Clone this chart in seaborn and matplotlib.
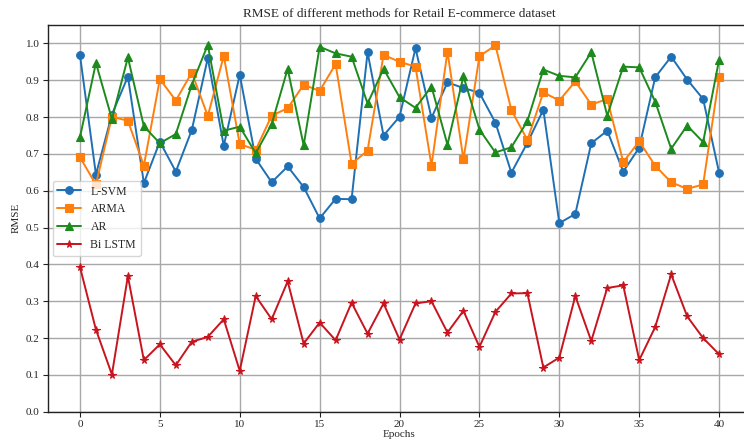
import numpy as np
import pandas as pd
import matplotlib
matplotlib.use("Agg")
import matplotlib.pyplot as plt
import seaborn as sns

epochs = list(range(41))

lsvm = [0.969, 0.644, 0.807, 0.910, 0.621, 0.733, 0.652, 0.765, 0.960, 0.722,
        0.915, 0.687, 0.623, 0.666, 0.610, 0.525, 0.578, 0.577, 0.976, 0.750,
        0.801, 0.987, 0.798, 0.894, 0.879, 0.866, 0.785, 0.649, 0.730, 0.820,
        0.512, 0.537, 0.729, 0.763, 0.652, 0.717, 0.908, 0.964, 0.902, 0.849,
        0.649]
arma = [0.691, 0.617, 0.801, 0.790, 0.668, 0.903, 0.845, 0.921, 0.803, 0.966,
        0.727, 0.711, 0.804, 0.824, 0.888, 0.871, 0.944, 0.673, 0.709, 0.969,
        0.950, 0.937, 0.668, 0.978, 0.685, 0.965, 0.995, 0.819, 0.738, 0.867,
        0.845, 0.897, 0.834, 0.849, 0.678, 0.734, 0.668, 0.623, 0.605, 0.617,
        0.908]
ar = [0.745, 0.947, 0.795, 0.962, 0.775, 0.729, 0.754, 0.888, 0.996, 0.763,
      0.774, 0.702, 0.781, 0.931, 0.723, 0.991, 0.973, 0.964, 0.837, 0.931,
      0.854, 0.825, 0.883, 0.725, 0.911, 0.766, 0.704, 0.718, 0.789, 0.929,
      0.912, 0.908, 0.976, 0.804, 0.937, 0.935, 0.842, 0.714, 0.777, 0.732,
      0.956]
bilstm = [0.393, 0.223, 0.101, 0.368, 0.140, 0.183, 0.126, 0.190, 0.203, 0.251,
          0.111, 0.314, 0.251, 0.354, 0.185, 0.242, 0.194, 0.296, 0.212, 0.294,
          0.196, 0.294, 0.300, 0.215, 0.274, 0.176, 0.271, 0.321, 0.322, 0.120,
          0.147, 0.314, 0.192, 0.336, 0.343, 0.140, 0.230, 0.373, 0.259, 0.200,
          0.156]

series_names = ["L-SVM", "ARMA", "AR", "Bi LSTM"]
series_vals = [lsvm, arma, ar, bilstm]
colors = ["#1f6fb4", "#ff7f0e", "#1d8a1d", "#c8141e"]
markers = ["o", "s", "^", "*"]

sns.set_style("whitegrid")
plt.rcParams["font.family"] = ["Liberation Serif", "DejaVu Serif"]
plt.rcParams["mathtext.fontset"] = "stix"

fig = plt.figure(figsize=(7.44, 4.46), dpi=100)
ax = fig.add_axes([0.0645, 0.0769, 0.945, 0.867])

for name, vals, c, m in zip(series_names, series_vals, colors, markers):
    df = pd.DataFrame({"Epochs": epochs, "RMSE": vals})
    sns.lineplot(data=df, x="Epochs", y="RMSE", ax=ax, color=c, marker=m,
                 markersize=5.5 if m != "*" else 5.5, linewidth=1.4,
                 markeredgecolor=c, markeredgewidth=0.8, label=name)

ax.set_xlim(-2, 42)
ax.set_ylim(0, 1.05)
ax.set_xticks(range(0, 41, 5))
ax.set_yticks(np.arange(0, 1.01, 0.1))
ax.set_yticklabels([f"{v:.1f}" for v in np.arange(0, 1.01, 0.1)])
ax.grid(True, color="#a8a8a8", linewidth=1.0)
for s in ax.spines.values():
    s.set_color("#222222")
    s.set_linewidth(1.0)
ax.tick_params(axis="both", labelsize=8, length=3.5, color="#222222",
               left=True, bottom=True, pad=2.5)
ax.set_xlabel("Epochs", fontsize=8, labelpad=1)
ax.set_ylabel("RMSE", fontsize=8, labelpad=4)
ax.set_title("RMSE of different methods for Retail E-commerce dataset", fontsize=9.5, pad=6)
leg = ax.legend(loc="center left", fontsize=8.5, frameon=True, borderaxespad=0.4,
                handlelength=2.0)
leg.get_frame().set_edgecolor("#cccccc")

fig.savefig("out.png", dpi=100)
